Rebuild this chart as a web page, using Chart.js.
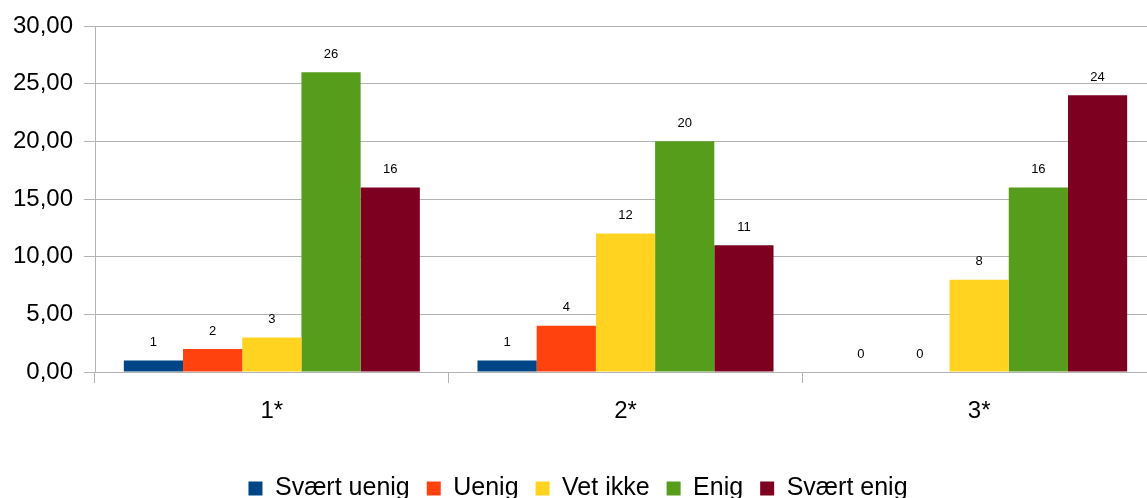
<!DOCTYPE html>
<html>
<head>
<meta charset="utf-8">
<script src="https://cdn.jsdelivr.net/npm/chart.js@4/dist/chart.umd.min.js"></script>
<style>
  html, body { margin: 0; padding: 0; background: #fff; overflow: hidden; }
  #wrap { width: 1162px; height: 511px; }
</style>
</head>
<body>
<div id="wrap"><canvas id="c" width="1162" height="511"></canvas></div>
<script>
var categories = ['1*', '2*', '3*'];
var seriesNames = ['Svært uenig', 'Uenig', 'Vet ikke', 'Enig', 'Svært enig'];
var svaertUenig = [1, 1, 0];
var uenig = [2, 4, 0];
var vetIkke = [3, 12, 8];
var enig = [26, 20, 16];
var svaertEnig = [16, 11, 24];
var yTicks = [0, 5, 10, 15, 20, 25, 30];

var colors = ['#004586', '#ff420e', '#ffd320', '#579d1c', '#7e0021'];
var values = [svaertUenig, uenig, vetIkke, enig, svaertEnig];
var font = 'Liberation Sans, Arial, sans-serif';

// value labels above every bar
var valueLabels = {
  id: 'valueLabels',
  afterDatasetsDraw: function (chart) {
    var ctx = chart.ctx;
    ctx.save();
    ctx.font = '13px ' + font;
    ctx.fillStyle = '#000';
    ctx.textAlign = 'center';
    ctx.textBaseline = 'middle';
    chart.data.datasets.forEach(function (ds, i) {
      chart.getDatasetMeta(i).data.forEach(function (bar, j) {
        ctx.fillText(String(ds.data[j]), bar.x, bar.y - 18);
      });
    });
    ctx.restore();
  }
};

new Chart(document.getElementById('c'), {
  type: 'bar',
  data: {
    labels: categories,
    datasets: seriesNames.map(function (name, i) {
      return {
        label: name,
        data: values[i],
        backgroundColor: colors[i],
        borderWidth: 0,
        categoryPercentage: 0.837,
        barPercentage: 1
      };
    })
  },
  options: {
    responsive: false,
    animation: false,
    layout: { padding: { top: 26, right: 6, left: 0, bottom: 0 } },
    plugins: {
      tooltip: { enabled: false },
      legend: {
        position: 'bottom',
        labels: {
          font: { family: font, size: 25 },
          color: '#000',
          boxWidth: 14,
          boxHeight: 14,
          padding: 17
        }
      }
    },
    scales: {
      x: {
        afterFit: function (s) { s.height = 87; },
        grid: { offset: true, drawOnChartArea: false, color: '#b3b3b3', tickLength: 11 },
        border: { color: '#b3b3b3' },
        ticks: { font: { family: font, size: 24 }, color: '#000', padding: 14 }
      },
      y: {
        min: 0,
        max: 30,
        afterFit: function (s) { s.width = 95; },
        afterBuildTicks: function (s) { s.ticks = yTicks.map(function (v) { return { value: v }; }); },
        grid: { color: '#b3b3b3', tickLength: 11 },
        border: { color: '#b3b3b3' },
        ticks: {
          font: { family: font, size: 24 },
          color: '#000',
          padding: 11,
          callback: function (v) { return v.toFixed(2).replace('.', ','); }
        }
      }
    }
  },
  plugins: [valueLabels]
});
</script>
</body>
</html>
